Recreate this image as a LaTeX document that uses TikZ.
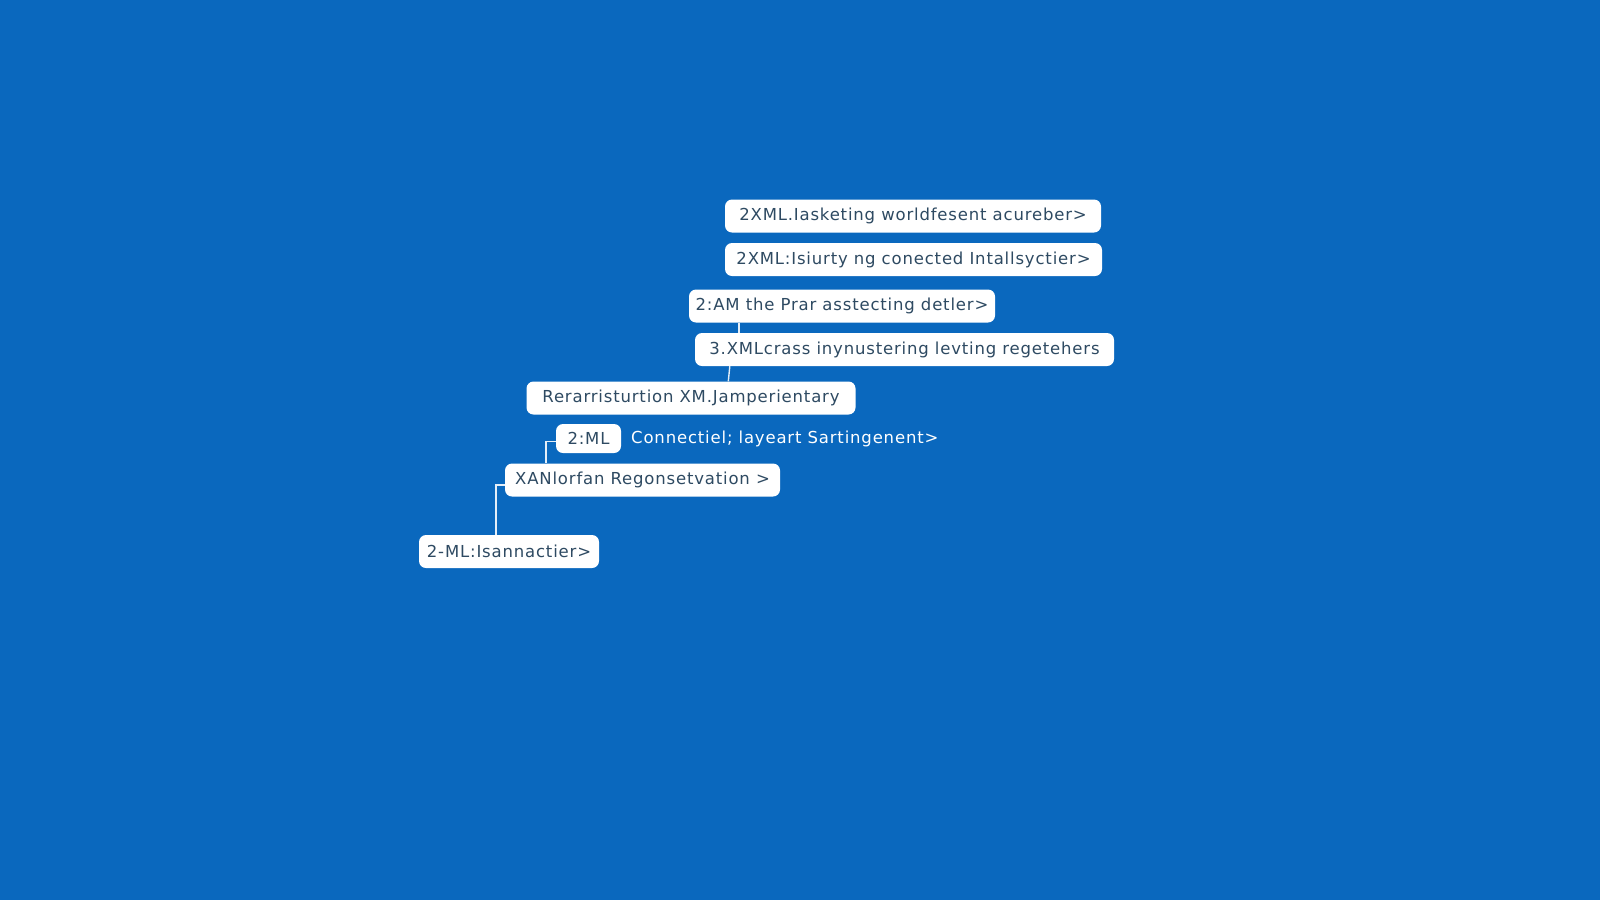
\documentclass[tikz,border=0pt]{standalone}
\usepackage{fontspec}
\setmainfont{DejaVu Sans}
\newfontfamily\boxfont[LetterSpace=5]{DejaVu Sans}
\usetikzlibrary{positioning}
\definecolor{bgblue}{HTML}{0A68BE}
\definecolor{boxtext}{HTML}{2E4A62}
\definecolor{linkwhite}{HTML}{E4EEF8}

\begin{document}
\begin{tikzpicture}
    [
    x=1pt,y=-1pt,
    item/.style={rectangle,rounded corners=7pt,fill=white,text=boxtext,
        inner sep=0pt,minimum height=33pt,
        font=\boxfont\fontsize{16.5}{19}\selectfont},
    link/.style={draw=linkwhite,line width=1.4pt}
    ]
\fill[bgblue] (0,0) rectangle (1600,900);
\node[item,minimum width=376pt] (x1) at (913,216) {2XML.Iasketing worldfesent acureber>};
\node[item,minimum width=377pt] (x2) at (913.5,259.5) {2XML:Isiurty ng conected Intallsyctier>};
\node[item,minimum width=306pt] (x3) at (842,306) {2:AM the Prar asstecting detler>};
\node[item,minimum width=419pt] (x4) at (904.5,349.5) {3.XMLcrass inynustering levting regetehers};
\node[item,minimum width=329pt] (x5) at (691,398) {Rerarristurtion XM.Jamperientary};
\node[item,minimum width=65pt,minimum height=29pt] (x6) at (588.5,438.5) {2:ML};
\node[item,minimum width=275pt] (x7) at (642.5,480) {XANlorfan Regonsetvation >};
\node[item,minimum width=180pt] (x8) at (509,551.5) {2-ML:Isannactier>};
\node[anchor=west,text=white,inner sep=0pt,font=\boxfont\fontsize{16.5}{19}\selectfont]
    (conn) at (631,439) {Connectiel; layeart Sartingenent>};
\draw[link] ([xshift=50pt]x3.south west) -- ([xshift=44pt]x4.north west);
\draw[link] ([xshift=35pt]x4.south west) -- ([xshift=202pt]x5.north west);
\draw[link] ([yshift=-3pt]x6.west) -| ([xshift=41pt]x7.north west);
\draw[link] ([yshift=-5pt]x7.west) -| ([xshift=77pt]x8.north west);
\end{tikzpicture}
\end{document}
